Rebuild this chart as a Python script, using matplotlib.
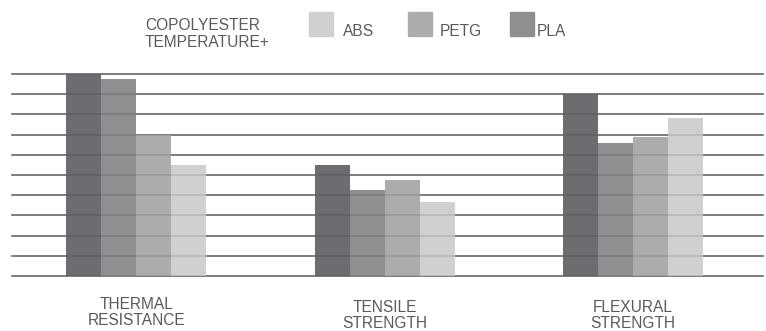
import numpy as np
import matplotlib.pyplot as plt
from matplotlib.patches import Rectangle
from matplotlib.transforms import blended_transform_factory

plt.rcParams['font.family'] = ['Liberation Sans', 'DejaVu Sans']

categories = ['THERMAL\nRESISTANCE', 'TENSILE\nSTRENGTH', 'FLEXURAL\nSTRENGTH']
series = ['COPOLYESTER\nTEMPERATURE+', 'PLA', 'PETG', 'ABS']
values = {
    'COPOLYESTER\nTEMPERATURE+': [10.0, 5.5, 9.0],
    'PLA': [9.75, 4.25, 6.6],
    'PETG': [7.0, 4.75, 6.9],
    'ABS': [5.5, 3.65, 7.8],
}
colors = ['#6d6c70', '#8f8f8f', '#acacac', '#d0d0d0']
legend_order = ['ABS', 'PETG', 'PLA']

W, H = 766, 331
fig = plt.figure(figsize=(W / 100, H / 100), dpi=100)
ax = fig.add_axes([12 / W, 1 - 276 / H, 751 / W, 202 / H])

x = np.arange(len(categories))
bw = 35 / 248.5
for i, s in enumerate(series):
    ax.bar(x + (i - 1.5) * bw, values[s], width=bw, color=colors[i],
           linewidth=0, zorder=2)

# grid lines, behind and a faint copy over the bars
for gy in range(0, 11):
    ax.axhline(gy, color='#6b6b6b', lw=1.1, zorder=1, clip_on=False)
    ax.axhline(gy, color='black', lw=1.1, alpha=0.13, zorder=3, clip_on=False)

ax.set_xlim(-0.5, 2.523)
ax.set_ylim(0, 10)
ax.axis('off')

# category labels under the groups
trans = blended_transform_factory(ax.transData, fig.transFigure)
label_y = [312.5, 315.5, 315.5]
for i, c in enumerate(categories):
    ax.text(x[i], 1 - label_y[i] / H, c, transform=trans,
            ha='center', va='center', fontsize=11.2, color='#5a5a5a',
            linespacing=1.15)

# legend
fig.text(145 / W, 1 - 34 / H, series[0], ha='left', va='center',
         fontsize=11.2, color='#5a5a5a', linespacing=1.1)
sw_x = [309, 408, 510]
tx_x = [343, 440, 537]
for k, name in enumerate(legend_order):
    c = colors[series.index(name)]
    fig.patches.append(Rectangle((sw_x[k] / W, 1 - 36 / H), 24 / W, 24 / H,
                                 transform=fig.transFigure, color=c))
    fig.text(tx_x[k] / W, 1 - 36 / H, name, ha='left', va='baseline',
             fontsize=11.2, color='#5a5a5a')

fig.savefig('out.png', dpi=100)
